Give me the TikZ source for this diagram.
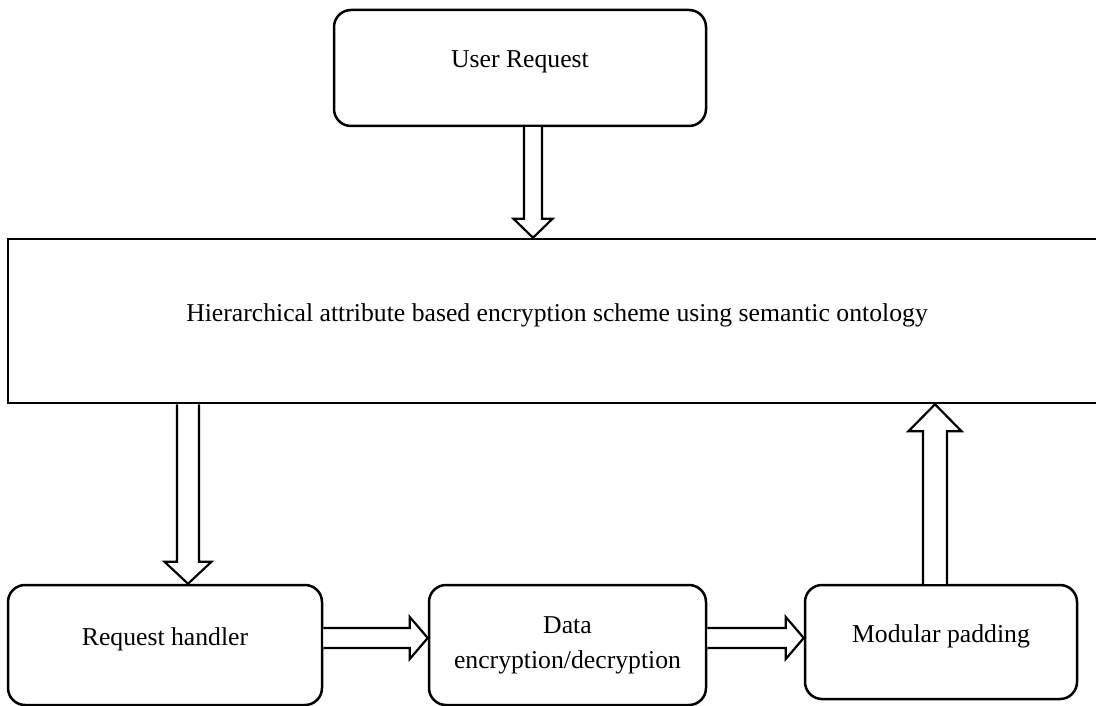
\documentclass[tikz,border=0pt]{standalone}
\usepackage{fontspec}
\setmainfont{Liberation Serif}
\usetikzlibrary{calc}

\tikzset{
  box/.style={draw,line width=2.5pt,rounded corners=17pt,align=center,inner sep=0pt},
  plainbox/.style={draw,line width=2.5pt,inner sep=0pt},
  raised/.style={text height=0.7em,text depth=0.7em},
  arrowshaft/.store in=\arrowshaft,
  arrowhead/.store in=\arrowhead,
  arrowlen/.store in=\arrowlen,
  arrowshaft=10pt, arrowhead=21pt, arrowlen=18pt,
  fatarrow/.style={draw,line width=2.2pt,fill=white,line join=miter,
    to path={let \p1=(\tikztostart), \p2=(\tikztotarget),
      \p3=($(\p2)!\arrowlen!(\p1)$) in
      ($(\p1)!\arrowshaft!90:(\p2)$) -- ($(\p3)!\arrowshaft!90:(\p2)$)
      -- ($(\p3)!\arrowhead!90:(\p2)$) -- (\p2)
      -- ($(\p3)!\arrowhead!-90:(\p2)$) -- ($(\p3)!\arrowshaft!-90:(\p2)$)
      -- ($(\p1)!\arrowshaft!-90:(\p2)$)}}
}

\begin{document}
\begin{tikzpicture}[font=\fontsize{25.7pt}{35pt}\selectfont]
\begin{scope}[x=1pt,y=-1pt]
\useasboundingbox (0,0) rectangle (1096,706);

\node[box,raised,minimum width=372pt,minimum height=116pt] (ur) at (520,68) {User Request};
\node[plainbox,raised,minimum width=1098pt,minimum height=164pt] (hs) at (557,321)
  {Hierarchical attribute based encryption scheme using semantic ontology};
\node[box,raised,minimum width=314pt,minimum height=120pt] (rh) at (165,645) {Request handler};
\node[box,minimum width=277pt,minimum height=120pt] (de) at (567.5,645) {Data\\encryption/decryption};
\node[box,raised,minimum width=272pt,minimum height=114pt] (mp) at (941,642) {Modular padding};

\coordinate (a1) at ($(ur.south)+(13,0)$);
\coordinate (a2) at ($(rh.north)+(23,0)$);
\coordinate (a3) at ($(rh.east)+(0,-7)$);
\coordinate (a4) at ($(de.east)+(0,-7)$);
\coordinate (a5) at ($(mp.north)+(-6,0)$);

\draw[fatarrow,arrowshaft=9pt,arrowhead=19.5pt,arrowlen=19pt]  (a1) to (a1 |- hs.north);
\draw[fatarrow,arrowshaft=11pt,arrowhead=23.5pt,arrowlen=22pt] (a2 |- hs.south) to (a2);
\draw[fatarrow] (a3) to (a3 -| de.west);
\draw[fatarrow] (a4) to (a4 -| mp.west);
\draw[fatarrow,arrowshaft=12pt,arrowhead=26.5pt,arrowlen=27pt] (a5) to (a5 |- hs.south);

\end{scope}
\end{tikzpicture}
\end{document}
